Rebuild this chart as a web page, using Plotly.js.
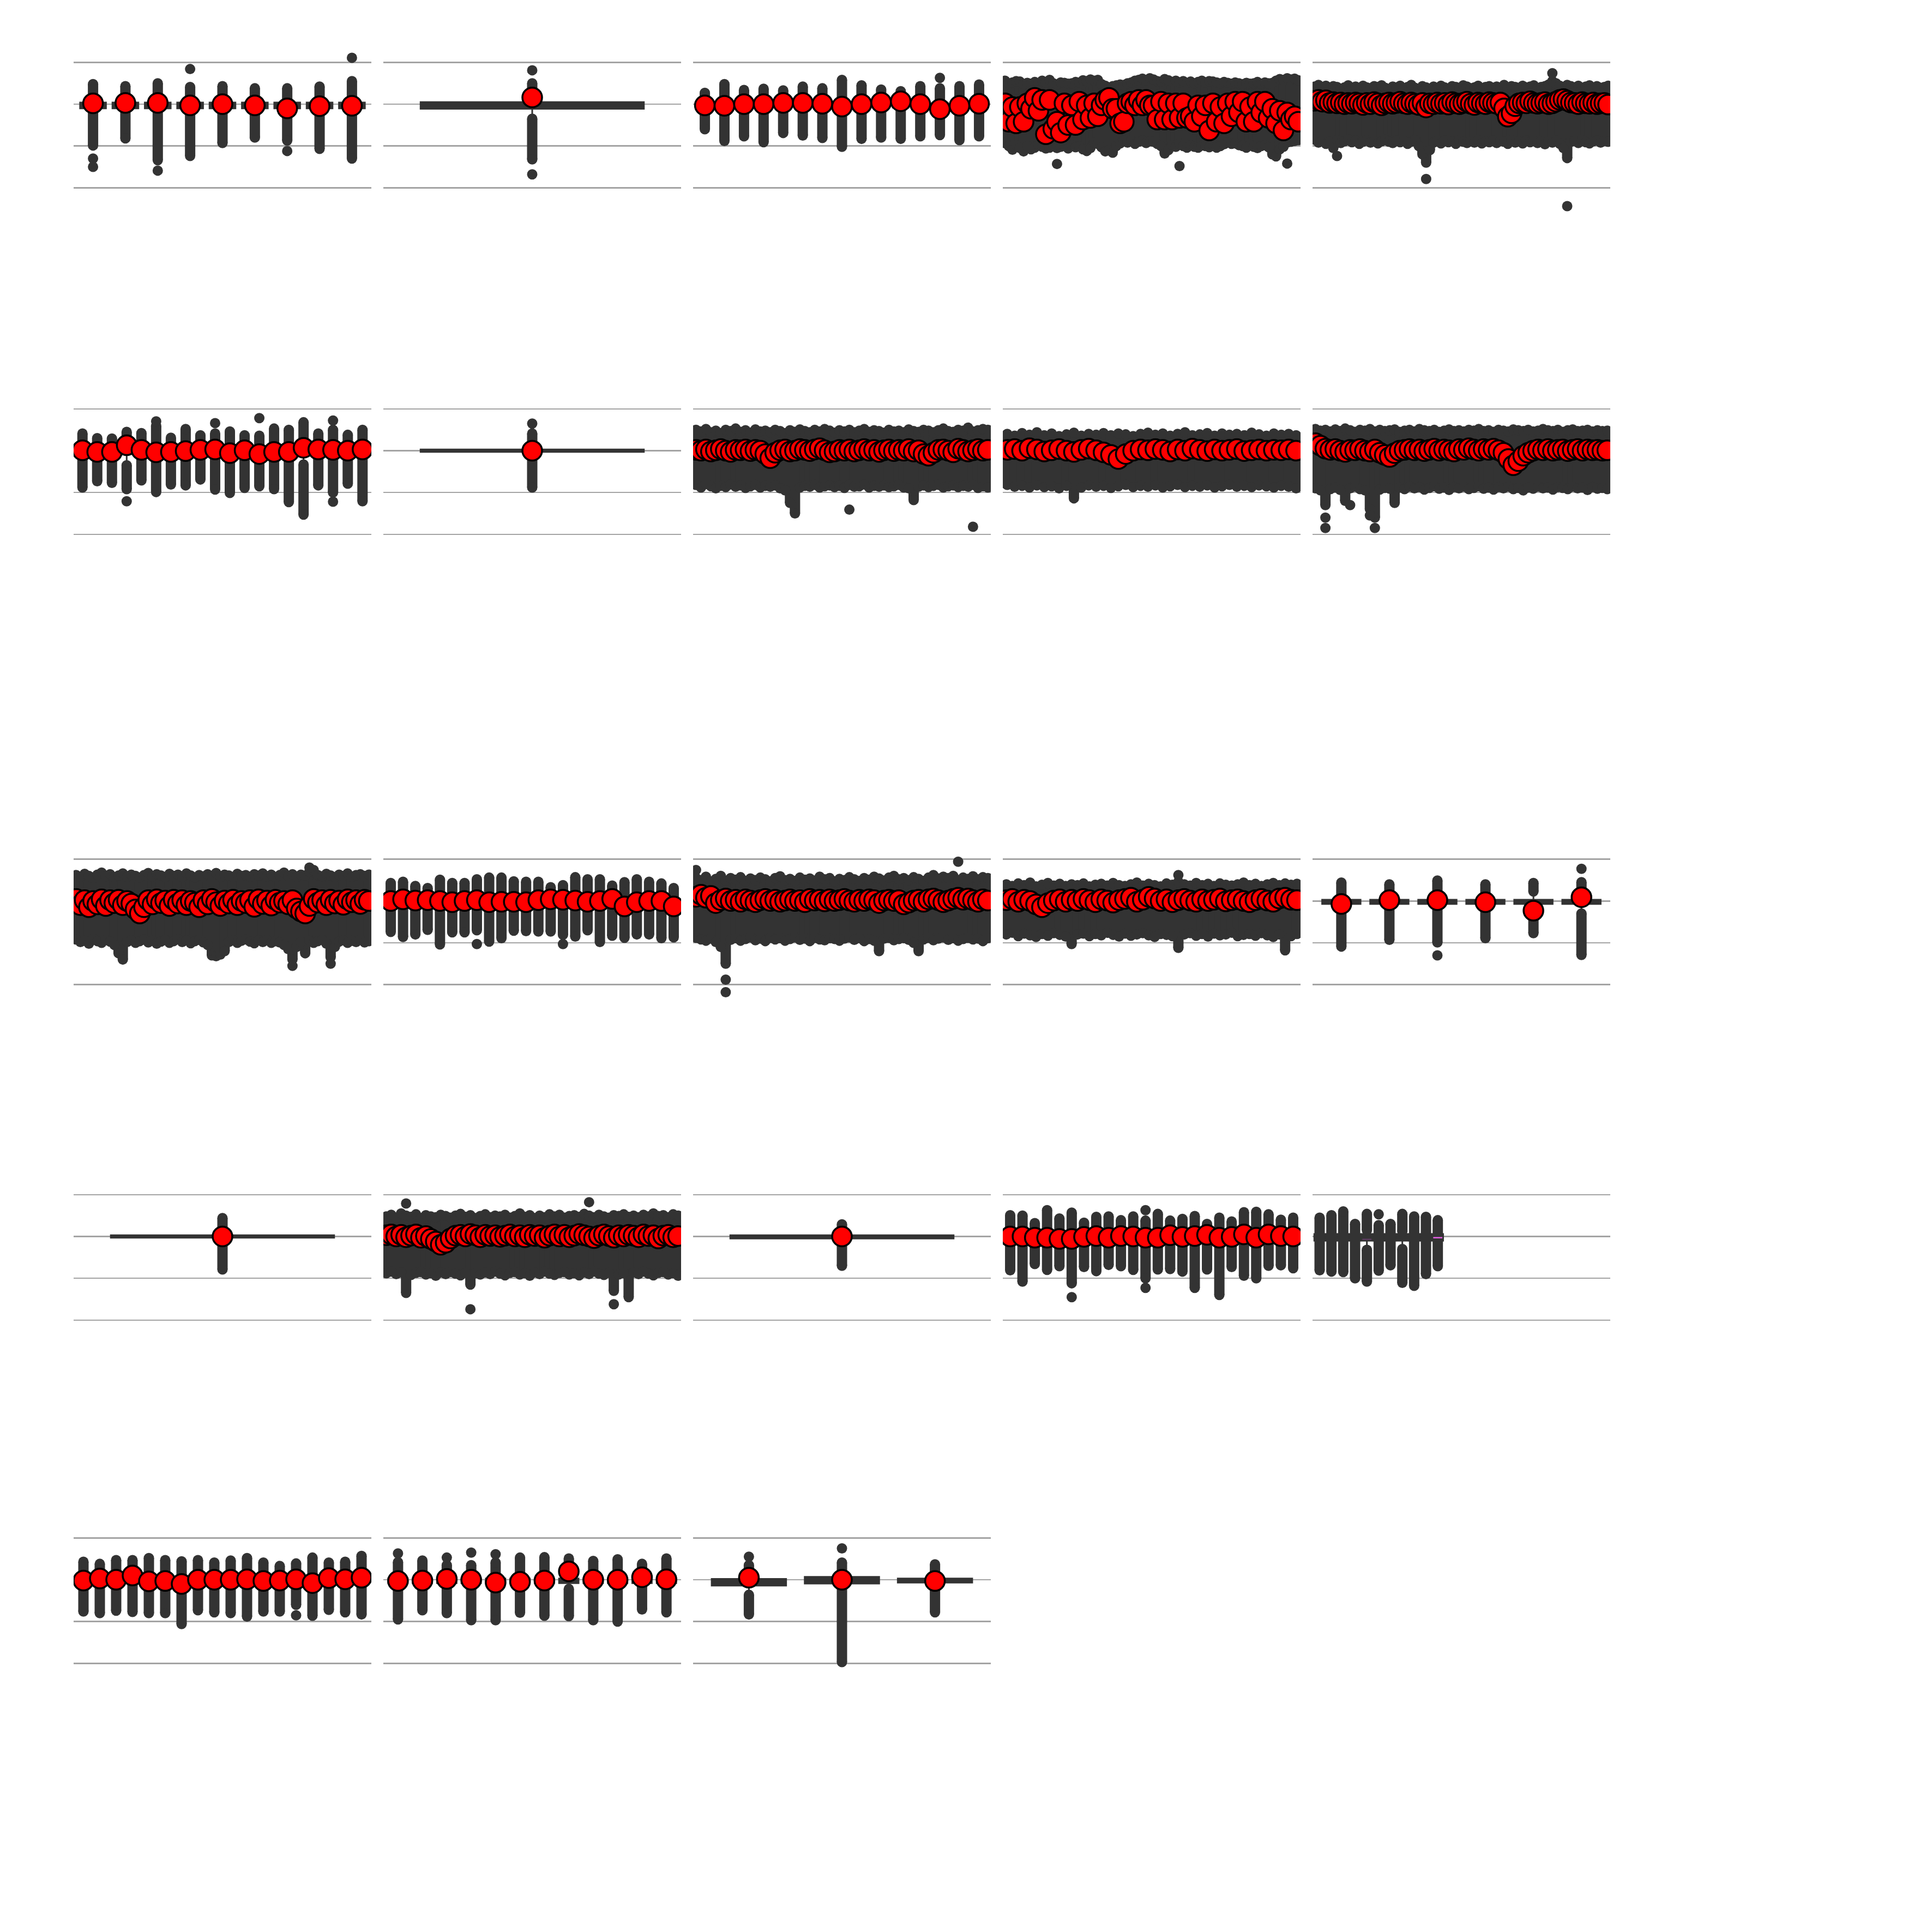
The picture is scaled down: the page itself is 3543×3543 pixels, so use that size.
<!DOCTYPE html>
<html><head><meta charset="utf-8">
<script src="https://cdn.plot.ly/plotly-3.0.1.min.js"></script>
<style>html,body{margin:0;padding:0;background:#fff}</style>
</head><body><div id="chart" style="width:3543px;height:3543px"></div>
<script>
// ---------------- DATA (values in grid units; gridlines at 1,0,-1,-2) ----------------
// each panel: hi = top of outlier strip, lo = bottom of outlier strip, mean = mean marker,
// out = isolated outliers [boxIndex, value], gaps = [boxIndex, stripBreakTop, stripBreakBottom]
const p1_hi=[0.48,0.43,0.50,0.41,0.43,0.38,0.38,0.42,0.55];
const p1_lo=[-0.99,-0.82,-1.34,-1.24,-0.93,-0.80,-0.87,-1.07,-1.30];
const p1_mean=[0.02,0.03,0.03,-0.03,0.00,-0.03,-0.10,-0.05,-0.04];
const p1_out=[[0,-1.30],[0,-1.50],[2,-1.59],[3,0.84],[6,-1.12],[8,1.11]];
const p1_box=[-0.10,0.04];

const p2_hi=[0.50], p2_lo=[-1.32], p2_mean=[0.16];
const p2_out=[[0,0.81],[0,-1.68]];
const p2_gaps=[[0,0.30,-0.35]];
const p2_box=[-0.11,0.05];

const p3_hi=[0.27,0.48,0.34,0.37,0.33,0.42,0.38,0.58,0.45,0.35,0.31,0.43,0.38,0.43,0.47];
const p3_lo=[-0.60,-0.88,-0.77,-0.91,-0.69,-0.75,-0.81,-1.02,-0.83,-0.80,-0.83,-0.77,-0.74,-0.86,-0.77];
const p3_mean=[-0.03,-0.04,0,0,0.03,0.03,0.01,-0.06,0,0.04,0.07,0,-0.12,-0.04,0.01];
const p3_out=[[12,0.63]];

const p4_hi=[0.56,0.50,0.52,0.55,0.54,0.48,0.51,0.49,0.53,0.50,0.56,0.52,0.58,0.50,0.47,0.52,0.51,0.49,0.50,0.53,0.52,0.57,0.55,0.59,0.56,0.58,0.48,0.44,0.40,0.43,0.45,0.47,0.46,0.50,0.52,0.56,0.58,0.61,0.57,0.62,0.59,0.55,0.54,0.60,0.57,0.53,0.56,0.52,0.55,0.51,0.54,0.50,0.53,0.56,0.52,0.55,0.54,0.52,0.50,0.53,0.51,0.49,0.52,0.50,0.48,0.51,0.49,0.50,0.53,0.49,0.52,0.50,0.51,0.56,0.60,0.58,0.62,0.59,0.61,0.57];
const p4_lo=[-0.93,-1.00,-1.09,-0.98,-1.05,-1.13,-1.00,-1.08,-1.04,-0.97,-1.02,-1.06,-1.04,-0.99,-1.05,-1.02,-1.00,-1.06,-0.98,-1.03,-1.01,-1.08,-1.12,-1.05,-0.92,-0.95,-1.03,-1.13,-1.10,-1.16,-1.00,-0.94,-0.87,-0.92,-0.88,-0.95,-0.90,-0.87,-0.93,-0.89,-0.90,-0.95,-1.00,-1.18,-1.10,-0.98,-1.02,-0.95,-1.00,-1.04,-0.98,-1.02,-1.04,-0.99,-1.00,-1.03,-0.97,-1.04,-1.00,-0.96,-0.92,-0.95,-0.94,-0.98,-1.00,-1.04,-0.97,-1.02,-1.05,-1.00,-0.98,-1.03,-1.20,-1.25,-1.08,-1.02,-0.92,-0.90,-0.88,-0.86];
const p4_mean=[0.02,-0.42,-0.07,-0.46,-0.07,-0.42,0.02,-0.11,0.15,-0.16,0.10,-0.72,0.10,-0.59,-0.42,-0.68,0.02,-0.50,-0.03,-0.50,0.06,-0.37,-0.03,-0.33,0.02,-0.29,-0.03,0.10,0.15,-0.11,-0.11,-0.46,-0.42,0.02,0.06,-0.03,0.10,-0.03,0.10,-0.03,-0.03,-0.37,0.06,-0.37,0.02,-0.37,0.02,-0.33,0.02,-0.33,-0.29,-0.42,-0.03,-0.29,-0.03,-0.63,0.02,-0.42,-0.07,-0.46,0.02,-0.29,0.06,-0.20,0.06,-0.42,-0.07,-0.42,0.06,-0.20,0.06,-0.33,-0.11,-0.46,-0.16,-0.63,-0.20,-0.37,-0.29,-0.42];
const p4_out=[[14,-1.43],[47,-1.48],[76,-1.42]];

const p5_hi=[0.42,0.46,0.40,0.44,0.38,0.43,0.41,0.36,0.40,0.45,0.39,0.42,0.37,0.44,0.40,0.38,0.43,0.41,0.45,0.39,0.36,0.42,0.40,0.44,0.38,0.41,0.46,0.39,0.37,0.43,0.40,0.35,0.42,0.38,0.44,0.40,0.37,0.43,0.41,0.39,0.45,0.42,0.38,0.40,0.44,0.37,0.41,0.43,0.39,0.42,0.40,0.46,0.38,0.43,0.41,0.39,0.44,0.40,0.42,0.45,0.38,0.41,0.43,0.47,0.55,0.50,0.44,0.41,0.46,0.43,0.40,0.44,0.38,0.42,0.45,0.40,0.43,0.39,0.41,0.44];
const p5_lo=[-0.85,-0.92,-0.88,-0.95,-0.90,-1.05,-0.86,-0.93,-0.89,-0.84,-0.91,-0.87,-0.95,-0.90,-0.86,-0.92,-0.88,-0.94,-0.89,-0.85,-0.90,-0.93,-0.87,-0.91,-0.88,-0.95,-0.90,-0.86,-1.00,-1.20,-1.40,-1.10,-0.92,-0.88,-0.94,-0.87,-0.91,-0.89,-0.95,-0.86,-0.90,-0.93,-0.88,-0.92,-0.86,-0.94,-0.89,-0.91,-0.87,-0.93,-0.88,-0.90,-0.95,-0.86,-0.92,-0.89,-0.94,-0.87,-0.91,-0.88,-0.93,-0.90,-0.96,-0.88,-0.92,-0.87,-0.95,-1.05,-1.29,-0.90,-0.88,-0.93,-0.86,-0.91,-0.94,-0.89,-0.87,-0.92,-0.88,-0.90];
const p5_mean=[0.08,0.10,0.06,0.09,0.03,0.05,0.02,0.04,0.00,0.03,0.01,0.04,0.02,-0.02,0.03,0.00,0.05,0.02,-0.03,0.02,0.04,0.01,0.03,0.06,0.02,0.00,0.04,0.01,-0.02,0.03,-0.08,0.02,0.00,0.04,0.01,0.03,-0.01,0.05,0.02,0.00,0.03,0.06,0.01,-0.02,0.04,0.02,0.00,0.05,0.03,0.01,0.04,-0.10,-0.30,-0.22,-0.05,0.02,0.04,0.02,0.07,0.03,0.01,0.03,0.05,0.00,0.02,0.06,0.10,0.12,0.08,0.04,0.03,0.00,0.05,0.02,0.01,0.04,0.00,0.02,0.03,-0.01];
const p5_out=[[6,-1.24],[30,-1.79],[64,0.74],[68,-2.44]];

const p6_hi=[0.41,0.30,0.29,0.45,0.42,0.59,0.31,0.52,0.37,0.41,0.46,0.37,0.36,0.53,0.50,0.68,0.41,0.50,0.38,0.50];
const p6_lo=[-0.88,-0.73,-0.77,-0.92,-0.71,-0.99,-0.81,-0.83,-0.69,-0.93,-1.01,-0.89,-0.85,-0.92,-1.23,-1.53,-0.83,-1.00,-0.79,-1.21];
const p6_mean=[0.01,-0.03,-0.03,0.13,0.02,-0.04,-0.03,-0.01,0.02,0.03,-0.06,0.01,-0.08,-0.03,-0.03,0.07,0.03,0.02,0,0.03];
const p6_out=[[3,-1.21],[5,0.70],[9,0.66],[12,0.78],[17,0.72],[17,-1.22]];
const p6_gaps=[[3,0.15,-0.35],[15,0.10,-0.33]];

const p7_hi=[0.41], p7_lo=[-0.88], p7_mean=[0.0], p7_out=[[0,0.65]];
const p7_box=[-0.03,0.03];

const p8_hi=[0.50,0.46,0.52,0.44,0.48,0.42,0.50,0.47,0.53,0.45,0.49,0.43,0.51,0.46,0.48,0.44,0.50,0.47,0.42,0.49,0.45,0.51,0.47,0.44,0.50,0.46,0.52,0.48,0.43,0.49,0.46,0.50,0.44,0.48,0.52,0.45,0.49,0.47,0.43,0.50,0.46,0.48,0.44,0.51,0.47,0.45,0.50,0.48,0.44,0.49,0.53,0.47,0.45,0.50,0.48,0.55,0.46,0.49,0.52,0.50];
const p8_lo=[-0.82,-0.88,-0.80,-0.85,-0.90,-0.84,-0.87,-0.81,-0.86,-0.83,-0.89,-0.85,-0.82,-0.88,-0.84,-0.86,-0.83,-0.90,-0.95,-1.25,-1.50,-0.88,-0.84,-0.86,-0.82,-0.88,-0.85,-0.83,-0.87,-0.84,-0.89,-0.82,-0.86,-0.85,-0.81,-0.88,-0.84,-0.86,-0.83,-0.87,-0.85,-0.82,-0.88,-0.90,-1.18,-0.86,-0.83,-0.87,-0.84,-0.82,-0.88,-0.85,-0.83,-0.87,-0.84,-0.86,-0.82,-0.89,-0.85,-0.88];
const p8_mean=[0.02,0.00,0.03,-0.02,0.01,0.04,0.00,-0.03,0.02,0.01,0.03,-0.01,0.02,0.00,-0.08,-0.18,-0.05,0.01,0.03,-0.02,0.00,0.04,0.02,-0.01,0.03,0.06,0.01,-0.04,-0.02,0.02,0.00,0.03,-0.02,0.01,0.04,0.00,0.02,-0.03,0.01,0.03,-0.01,0.02,0.00,0.04,-0.02,0.01,-0.08,-0.12,-0.05,0.02,0.03,0.00,-0.04,0.05,0.02,-0.02,0.01,0.04,0.00,0.02];
const p8_out=[[31,-1.41],[56,-1.82]];

const p9_hi=[0.40,0.36,0.42,0.38,0.44,0.37,0.41,0.35,0.39,0.43,0.36,0.40,0.38,0.42,0.37,0.41,0.39,0.35,0.40,0.43,0.38,0.41,0.36,0.40,0.44,0.37,0.39,0.42,0.36,0.41,0.38,0.40,0.37,0.43,0.39,0.36,0.41,0.38,0.40,0.37];
const p9_lo=[-0.82,-0.86,-0.84,-0.88,-0.83,-0.87,-0.85,-0.90,-0.84,-1.14,-0.88,-0.83,-0.86,-0.84,-0.89,-0.85,-0.82,-0.87,-0.84,-0.86,-0.83,-0.88,-0.85,-0.82,-0.87,-0.84,-0.86,-0.83,-0.88,-0.85,-0.82,-0.86,-0.84,-0.87,-0.83,-0.85,-0.88,-0.84,-0.86,-0.90];
const p9_mean=[0.02,0.04,0.00,0.06,0.03,-0.02,0.01,0.04,0.00,-0.03,0.02,0.05,0.01,-0.04,-0.10,-0.20,-0.08,0.00,0.03,0.01,0.04,0.02,-0.02,0.03,0.00,0.05,0.02,-0.01,0.03,0.00,0.02,0.04,-0.01,0.01,0.03,0.00,0.02,0.01,0.03,0.00];
const p9_out=[];

const p10_hi=[0.52,0.48,0.50,0.46,0.51,0.47,0.53,0.49,0.45,0.50,0.48,0.52,0.46,0.50,0.47,0.49,0.51,0.45,0.48,0.50,0.46,0.52,0.49,0.47,0.50,0.45,0.48,0.51,0.47,0.49,0.46,0.50,0.48,0.52,0.47,0.49,0.45,0.50,0.48,0.46,0.51,0.49,0.47,0.50,0.46,0.48,0.52,0.49,0.47,0.50,0.45,0.49,0.51,0.47,0.48,0.50,0.46,0.49,0.47,0.48];
const p10_lo=[-0.90,-0.95,-1.30,-0.92,-0.88,-0.94,-1.20,-0.90,-0.86,-0.92,-0.95,-1.40,-1.60,-0.93,-0.89,-0.91,-1.25,-0.88,-0.92,-0.86,-0.90,-0.87,-0.93,-0.89,-0.85,-0.91,-0.88,-0.94,-0.87,-0.90,-0.86,-0.92,-0.89,-0.85,-0.91,-0.88,-0.93,-0.87,-0.90,-0.86,-0.92,-0.89,-0.95,-0.88,-0.91,-0.86,-0.90,-0.88,-0.93,-0.87,-0.89,-0.92,-0.86,-0.90,-0.88,-0.94,-0.87,-0.91,-0.89,-0.92];
const p10_mean=[0.18,0.12,0.05,0.02,0.04,0.00,-0.03,0.02,0.01,0.04,0.00,-0.02,0.03,-0.05,-0.10,-0.15,-0.06,0.00,0.02,0.04,0.01,0.03,-0.01,0.02,0.05,0.00,0.03,0.01,-0.02,0.04,0.02,0.06,0.03,0.00,0.04,0.02,0.05,0.01,-0.05,-0.20,-0.35,-0.25,-0.12,-0.05,0.00,0.03,0.01,0.04,0.00,0.02,0.03,-0.01,0.02,0.04,0.00,0.03,0.01,0.02,0.00,0.01];
const p10_out=[[2,-1.60],[2,-1.85],[7,-1.30],[12,-1.85],[11,-1.55]];

const p11_hi=[0.62,0.58,0.65,0.60,0.55,0.63,0.68,0.59,0.64,0.57,0.61,0.66,0.58,0.63,0.60,0.56,0.62,0.67,0.59,0.64,0.61,0.57,0.65,0.60,0.63,0.58,0.66,0.61,0.56,0.62,0.59,0.64,0.60,0.67,0.58,0.63,0.61,0.57,0.65,0.60,0.62,0.58,0.64,0.61,0.66,0.59,0.63,0.57,0.62,0.68,0.60,0.64,0.58,0.63,0.61,0.70,0.74,0.62,0.59,0.65,0.61,0.57,0.63,0.60,0.66,0.58,0.62,0.64,0.60,0.63];
const p11_lo=[-0.92,-0.98,-0.95,-1.02,-0.90,-0.96,-1.00,-0.93,-0.97,-1.05,-1.25,-1.40,-0.98,-0.94,-1.00,-0.96,-0.92,-0.99,-0.95,-1.02,-0.97,-0.93,-1.00,-0.96,-0.91,-0.98,-0.94,-1.01,-0.96,-0.93,-0.99,-1.05,-1.30,-1.32,-1.28,-1.20,-0.98,-0.94,-1.00,-0.95,-0.92,-0.97,-1.01,-0.94,-0.98,-0.93,-1.00,-0.96,-0.99,-1.05,-1.15,-1.40,-1.10,-0.98,-1.25,-0.95,-1.00,-0.96,-0.93,-1.02,-1.35,-1.10,-0.97,-0.94,-1.00,-0.95,-0.98,-0.93,-0.99,-0.96];
const p11_mean=[0.05,-0.10,0.02,-0.15,0.00,-0.08,0.04,-0.12,0.02,-0.05,0.03,-0.10,0.00,-0.06,-0.20,-0.30,-0.15,0.02,-0.08,0.04,-0.05,0.01,-0.12,0.03,-0.06,0.02,-0.10,0.00,-0.04,-0.15,0.02,-0.08,0.05,-0.03,-0.12,0.01,-0.06,0.03,-0.10,0.00,-0.05,0.02,-0.14,0.04,-0.07,0.01,-0.11,0.03,-0.04,0.00,-0.08,0.02,-0.18,-0.25,-0.30,-0.12,0.05,-0.04,0.02,-0.10,0.03,-0.06,0.01,-0.09,0.04,-0.03,0.02,-0.07,0.03,0.00];
const p11_out=[[51,-1.55],[60,-1.50],[55,0.80]];

const p12_hi=[0.43,0.46,0.36,0.31,0.51,0.43,0.43,0.52,0.56,0.56,0.47,0.46,0.46,0.33,0.38,0.57,0.52,0.52,0.37,0.45,0.52,0.46,0.42,0.31];
const p12_lo=[-0.74,-0.86,-0.80,-0.69,-1.04,-0.75,-0.75,-0.70,-0.97,-0.89,-0.71,-0.72,-0.73,-0.73,-0.81,-0.85,-0.70,-0.98,-0.83,-0.88,-0.80,-0.80,-0.89,-0.87];
const p12_mean=[0,0.04,0.01,0.02,0,-0.03,0,0.02,-0.03,-0.02,-0.02,-0.03,0.02,0.04,0.03,0.01,-0.02,0,0.05,-0.13,-0.03,0,0,-0.13];
const p12_out=[[7,-1.03],[14,-1.03]];

const p13_hi=[0.55,0.50,0.58,0.47,0.53,0.60,0.49,0.55,0.51,0.57,0.48,0.54,0.50,0.56,0.52,0.47,0.55,0.59,0.50,0.53,0.48,0.56,0.51,0.54,0.49,0.58,0.52,0.55,0.47,0.53,0.50,0.57,0.52,0.48,0.55,0.51,0.58,0.54,0.49,0.56,0.60,0.52,0.55,0.50,0.57,0.53,0.48,0.56,0.62,0.54,0.58,0.55,0.60,0.50,0.56,0.53,0.59,0.52,0.57,0.55];
const p13_lo=[-0.88,-0.92,-0.95,-0.90,-0.98,-1.10,-1.50,-0.93,-0.89,-0.95,-0.91,-0.87,-0.94,-0.90,-0.96,-0.88,-0.92,-0.89,-0.95,-0.91,-0.87,-0.93,-0.90,-0.96,-0.88,-0.92,-0.94,-0.89,-0.91,-0.95,-0.90,-0.87,-0.93,-0.89,-0.96,-0.91,-0.95,-1.20,-0.90,-0.88,-0.94,-0.91,-0.89,-0.93,-1.00,-1.20,-0.92,-0.88,-0.94,-0.90,-0.87,-0.93,-0.89,-0.95,-0.91,-0.88,-0.92,-0.90,-0.96,-0.89];
const p13_mean=[0.10,0.15,0.08,0.12,-0.05,0.02,0.06,0.00,0.03,-0.02,0.04,0.01,-0.03,0.02,0.05,0.00,0.03,-0.02,0.01,0.04,0.00,0.02,-0.03,0.05,0.01,0.03,-0.01,0.04,0.00,0.02,0.05,0.01,-0.02,0.03,0.00,0.04,0.02,-0.05,0.01,0.03,0.00,0.02,-0.08,-0.04,0.01,0.03,-0.02,0.04,0.06,0.02,-0.03,0.01,0.05,0.08,0.03,0.06,0.02,-0.02,0.04,0.01];
const p13_out=[[0,0.74],[53,0.94],[6,-1.88],[6,-2.18]];

const p14_hi=[0.40,0.36,0.42,0.38,0.44,0.35,0.39,0.43,0.37,0.41,0.36,0.40,0.38,0.42,0.35,0.39,0.41,0.37,0.43,0.38,0.36,0.40,0.44,0.37,0.41,0.38,0.35,0.42,0.39,0.46,0.40,0.37,0.43,0.38,0.41,0.36,0.42,0.39,0.37,0.40,0.44,0.38,0.41,0.36,0.40,0.43,0.38,0.42,0.39,0.41];
const p14_lo=[-0.80,-0.76,-0.84,-0.78,-0.82,-0.86,-0.79,-0.83,-0.77,-0.81,-0.85,-1.03,-0.80,-0.78,-0.84,-0.79,-0.82,-0.76,-0.81,-0.85,-0.78,-0.83,-0.80,-0.77,-0.82,-0.86,-0.79,-0.81,-0.84,-1.12,-0.80,-0.77,-0.83,-0.79,-0.85,-0.78,-0.82,-0.80,-0.76,-0.84,-0.81,-0.79,-0.83,-0.77,-0.82,-0.86,-0.80,-1.18,-0.84,-0.79];
const p14_mean=[0.02,0.05,-0.02,0.03,0.00,-0.08,-0.15,-0.05,0.01,0.04,-0.02,0.03,0.00,0.05,0.02,-0.03,0.04,0.01,-0.04,0.02,0.05,0.08,-0.02,0.03,0.10,0.06,0.00,0.04,-0.03,0.02,0.05,0.01,-0.02,0.04,0.00,0.03,0.06,-0.01,0.02,0.04,0.00,-0.03,0.02,0.05,0.01,-0.02,0.06,0.08,0.03,0.02];
const p14_out=[[29,0.62]];

const p15_hi=[0.44,0.40,0.49,0.40,0.43,0.45];
const p15_lo=[-1.09,-0.93,-0.99,-0.89,-0.77,-1.29];
const p15_mean=[-0.07,0.02,0.02,-0.03,-0.23,0.09];
const p15_out=[[2,-1.30],[5,0.77]];
const p15_gaps=[[4,0.23,-0.39],[5,0.15,-0.30]];
const p15_box=[-0.07,0.03];

const p16_hi=[0.44], p16_lo=[-0.79], p16_mean=[0.0];
const p16_box=[-0.03,0.03];

const p17_hi=[0.48,0.52,0.45,0.55,0.50,0.47,0.53,0.44,0.51,0.48,0.46,0.52,0.49,0.45,0.50,0.54,0.47,0.51,0.44,0.49,0.53,0.46,0.50,0.48,0.52,0.45,0.49,0.55,0.47,0.51,0.44,0.50,0.46,0.53,0.48,0.52,0.45,0.49,0.51,0.47,0.54,0.50,0.46,0.52,0.48,0.45,0.51,0.49,0.53,0.47,0.50,0.46,0.52,0.48,0.55,0.49,0.51,0.46,0.53,0.50];
const p17_lo=[-0.88,-0.84,-0.90,-0.86,-1.35,-0.92,-0.87,-0.85,-0.91,-0.88,-0.94,-0.86,-0.90,-0.85,-0.89,-0.93,-0.87,-1.15,-0.88,-0.91,-0.86,-0.90,-0.84,-0.89,-0.93,-0.87,-0.85,-0.91,-0.88,-0.94,-0.86,-0.90,-0.84,-0.89,-0.92,-0.87,-0.85,-0.91,-0.88,-0.93,-0.86,-0.90,-0.84,-0.89,-0.92,-0.87,-1.30,-0.91,-0.88,-1.45,-0.86,-0.90,-0.84,-0.89,-0.93,-0.87,-0.85,-0.91,-0.88,-0.94];
const p17_mean=[0.03,0.05,0.00,0.04,-0.02,0.02,0.05,-0.03,0.01,-0.06,-0.12,-0.20,-0.15,-0.05,0.02,0.04,0.00,0.06,0.03,-0.02,0.04,0.01,0.03,-0.01,0.02,0.05,0.00,0.03,-0.02,0.04,0.01,0.03,-0.03,0.02,0.05,0.00,0.04,-0.02,0.02,0.06,0.03,0.00,-0.04,0.02,0.05,0.01,-0.03,0.03,0.00,0.04,0.02,-0.02,0.05,0.01,0.03,-0.05,0.02,0.04,-0.02,0.01];
const p17_out=[[4,0.79],[41,0.82],[17,-1.74],[46,-1.62]];

const p18_hi=[0.29], p18_lo=[-0.70], p18_mean=[0.0];
const p18_box=[-0.05,0.03];

const p19_hi=[0.51,0.50,0.32,0.63,0.43,0.57,0.33,0.47,0.48,0.39,0.48,0.38,0.54,0.38,0.42,0.49,0.30,0.45,0.36,0.58,0.59,0.53,0.40,0.45];
const p19_lo=[-0.81,-1.08,-0.66,-0.80,-0.71,-1.12,-0.73,-0.83,-0.68,-0.71,-0.80,-1.00,-0.79,-0.78,-0.84,-1.23,-0.79,-1.40,-0.73,-0.94,-1.00,-0.70,-0.69,-0.76];
const p19_mean=[0,0,-0.03,-0.03,-0.06,-0.06,-0.01,0.01,-0.03,0.01,0,-0.03,-0.03,0.03,-0.01,0.01,0.04,-0.03,-0.01,0.05,-0.03,0.05,0.01,0];
const p19_out=[[5,-1.45],[11,0.63],[11,-1.23]];

const p20_hi=[0.45,0.51,0.60,0.30,0.54,0.27,0.30,0.54,0.48,0.47,0.39];
const p20_lo=[-0.81,-0.84,-0.85,-1.00,-1.08,-0.82,-0.69,-1.11,-1.18,-0.90,-0.71];
const p20_out=[[5,0.53]];
const p20_gaps=[[4,0.15,-0.32],[7,0.12,-0.30]];
const p20_meanline=[[4,-0.07,'#5b3b5e'],[10,-0.03,'#e45ee4']];
const p20_box=[-0.10,0.06];

const p21_hi=[0.43,0.38,0.47,0.47,0.52,0.47,0.44,0.47,0.41,0.46,0.52,0.41,0.33,0.39,0.53,0.41,0.43,0.57];
const p21_lo=[-0.76,-0.80,-0.74,-0.77,-0.80,-0.80,-1.06,-0.73,-0.78,-0.80,-0.88,-0.76,-0.76,-0.60,-0.86,-0.72,-0.78,-0.83];
const p21_mean=[-0.02,0.03,0,0.10,-0.04,-0.03,-0.10,0,0,0,0.01,-0.03,-0.02,0.01,-0.08,0.04,0.01,0.05];
const p21_out=[[13,-0.85]];

const p22_hi=[0.42,0.46,0.35,0.35,0.41,0.53,0.54,0.51,0.45,0.49,0.38,0.51];
const p22_lo=[-0.95,-0.73,-0.80,-0.97,-0.97,-0.79,-0.86,-0.87,-0.97,-1.00,-0.71,-0.78];
const p22_mean=[-0.03,-0.02,0.02,0,-0.07,-0.05,-0.02,0.20,0,0,0.06,0.01];
const p22_out=[[0,0.63],[2,0.53],[3,0.65],[4,0.61]];
const p22_gaps=[[7,0.20,-0.22]];

const p23_hi=[0.35,0.41,0.37];
const p23_lo=[-0.83,-1.97,-0.78];
const p23_mean=[0.05,0,-0.03];
const p23_out=[[0,0.55],[1,0.75]];
const p23_gaps=[[0,0.10,-0.36]];
const p23_q1=[-0.14,-0.09,-0.07];
const p23_q3=[0.02,0.07,0.03];

// ---------------- LAYOUT / DRAWING ----------------
const W=3543, H=3543;
const COL_X=[135,703,1271,1839,2407], PW=546;
const ROW_Z=[191,826.5,1652.3,2267.5,2897], UNIT=76.67;
const YR=[-2.6,1.5];
const DARK='#333333';

const panels=[
 {k:1,row:0,col:0,n:9,hi:p1_hi,lo:p1_lo,mean:p1_mean,out:p1_out,box:p1_box},
 {k:2,row:0,col:1,n:1,hi:p2_hi,lo:p2_lo,mean:p2_mean,out:p2_out,gaps:p2_gaps,box:p2_box,bw:0.9},
 {k:3,row:0,col:2,n:15,hi:p3_hi,lo:p3_lo,mean:p3_mean,out:p3_out},
 {k:4,row:0,col:3,n:80,hi:p4_hi,lo:p4_lo,mean:p4_mean,out:p4_out},
 {k:5,row:0,col:4,n:80,hi:p5_hi,lo:p5_lo,mean:p5_mean,out:p5_out},
 {k:6,row:1,col:0,n:20,hi:p6_hi,lo:p6_lo,mean:p6_mean,out:p6_out,gaps:p6_gaps},
 {k:7,row:1,col:1,n:1,hi:p7_hi,lo:p7_lo,mean:p7_mean,out:p7_out,box:p7_box,bw:0.9},
 {k:8,row:1,col:2,n:60,hi:p8_hi,lo:p8_lo,mean:p8_mean,out:p8_out},
 {k:9,row:1,col:3,n:40,hi:p9_hi,lo:p9_lo,mean:p9_mean,out:p9_out},
 {k:10,row:1,col:4,n:60,hi:p10_hi,lo:p10_lo,mean:p10_mean,out:p10_out},
 {k:11,row:2,col:0,n:70,hi:p11_hi,lo:p11_lo,mean:p11_mean,out:p11_out},
 {k:12,row:2,col:1,n:24,hi:p12_hi,lo:p12_lo,mean:p12_mean,out:p12_out},
 {k:13,row:2,col:2,n:60,hi:p13_hi,lo:p13_lo,mean:p13_mean,out:p13_out},
 {k:14,row:2,col:3,n:50,hi:p14_hi,lo:p14_lo,mean:p14_mean,out:p14_out},
 {k:15,row:2,col:4,n:6,hi:p15_hi,lo:p15_lo,mean:p15_mean,out:p15_out,gaps:p15_gaps,box:p15_box},
 {k:16,row:3,col:0,n:1,hi:p16_hi,lo:p16_lo,mean:p16_mean,out:[],box:p16_box,bw:0.9},
 {k:17,row:3,col:1,n:60,hi:p17_hi,lo:p17_lo,mean:p17_mean,out:p17_out},
 {k:18,row:3,col:2,n:1,hi:p18_hi,lo:p18_lo,mean:p18_mean,out:[],box:p18_box,bw:0.9},
 {k:19,row:3,col:3,n:24,hi:p19_hi,lo:p19_lo,mean:p19_mean,out:p19_out},
 {k:20,row:3,col:4,n:25,hi:p20_hi,lo:p20_lo,mean:null,out:p20_out,gaps:p20_gaps,box:p20_box,bw:0.9,meanline:p20_meanline},
 {k:21,row:4,col:0,n:18,hi:p21_hi,lo:p21_lo,mean:p21_mean,out:p21_out},
 {k:22,row:4,col:1,n:12,hi:p22_hi,lo:p22_lo,mean:p22_mean,out:p22_out,gaps:p22_gaps},
 {k:23,row:4,col:2,n:3,hi:p23_hi,lo:p23_lo,mean:p23_mean,out:p23_out,gaps:p23_gaps,q1:p23_q1,q3:p23_q3}
];

const traces=[];
const layout={width:W,height:H,margin:{l:0,r:0,t:0,b:0},paper_bgcolor:'#ffffff',plot_bgcolor:'#ffffff',showlegend:false};

panels.forEach(p=>{
  const k=p.k, xa='x'+k, ya='y'+k;
  const x0=COL_X[p.col], x1=x0+PW;
  const yTop=ROW_Z[p.row]-YR[1]*UNIT, yBot=ROW_Z[p.row]-YR[0]*UNIT;
  layout['xaxis'+k]={domain:[x0/W,x1/W],range:[-0.6,p.n-1+0.6],anchor:ya,showgrid:false,zeroline:false,showticklabels:false,ticks:'',showline:false,fixedrange:true};
  layout['yaxis'+k]={domain:[(H-yBot)/H,(H-yTop)/H],range:YR,anchor:xa,tickvals:[-2,-1,0,1],showgrid:true,gridcolor:'#a4a4a4',gridwidth:2.5,zeroline:false,showticklabels:false,ticks:'',showline:false,fixedrange:true};

  const m=p.hi.length;
  const idx=[],q1=[],q3=[],med=[],lf=[],uf=[];
  const sx=[],sy=[];
  for(let i=0;i<m;i++){
    const a=p.q1?p.q1[i]:(p.box?p.box[0]:-0.08);
    const b=p.q3?p.q3[i]:(p.box?p.box[1]:0.03);
    let lower=a, upper=b;
    const g=(p.gaps||[]).find(v=>v[0]===i);
    if(g){
      if(g[1]>b) upper=g[1];
      if(g[2]<a) lower=g[2];
      sx.push(i,i,null,i,i,null); sy.push(p.hi[i],g[1],null,g[2],p.lo[i],null);
    } else {
      sx.push(i,i,null); sy.push(p.hi[i],p.lo[i],null);
    }
    idx.push(i); q1.push(a); q3.push(b); med.push((a+b)/2); lf.push(lower); uf.push(upper);
  }
  traces.push({type:'box',xaxis:xa,yaxis:ya,x:idx,q1:q1,median:med,q3:q3,lowerfence:lf,upperfence:uf,
    width:p.bw||0.8,fillcolor:DARK,line:{color:DARK,width:3},boxpoints:false,whiskerwidth:0,orientation:'v',hoverinfo:'skip'});
  traces.push({type:'scatter',mode:'lines+markers',xaxis:xa,yaxis:ya,x:sx,y:sy,connectgaps:false,
    line:{color:DARK,width:19},marker:{color:DARK,size:19},hoverinfo:'skip'});
  if(p.out.length){
    traces.push({type:'scatter',mode:'markers',xaxis:xa,yaxis:ya,x:p.out.map(v=>v[0]),y:p.out.map(v=>v[1]),
      marker:{color:DARK,size:19},hoverinfo:'skip'});
  }
  if(p.mean){
    traces.push({type:'scatter',mode:'markers',xaxis:xa,yaxis:ya,x:idx,y:p.mean,
      marker:{color:'#ff0000',size:36,line:{color:'#000000',width:3.5}},hoverinfo:'skip'});
  }
  if(p.meanline){
    traces.push({type:'scatter',mode:'markers',xaxis:xa,yaxis:ya,x:p.meanline.map(v=>v[0]),y:p.meanline.map(v=>v[1]),
      marker:{symbol:'line-ew',size:12,line:{color:p.meanline.map(v=>v[2]),width:2.5}},hoverinfo:'skip'});
  }
});

Plotly.newPlot('chart',traces,layout,{staticPlot:true});
</script></body></html>
